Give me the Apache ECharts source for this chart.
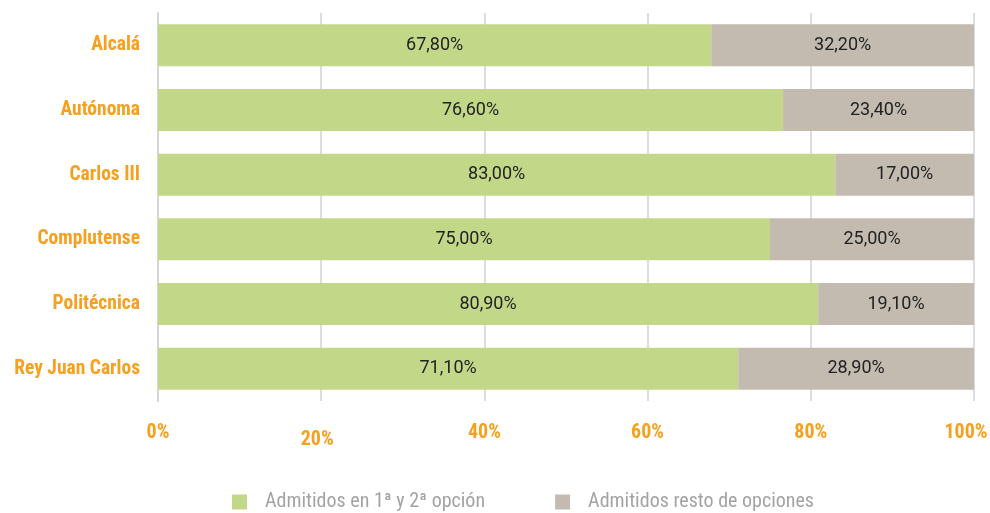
<!DOCTYPE html>
<html>
<head>
<meta charset="utf-8">
<script src="https://cdn.jsdelivr.net/npm/echarts@6/dist/echarts.min.js"></script>
<style>
  html, body { margin: 0; padding: 0; background: #fff; }
  #chart { width: 990px; height: 513px; }
</style>
</head>
<body>
<div id="chart"></div>
<script>
  const universidades = ['Alcalá', 'Autónoma', 'Carlos III', 'Complutense', 'Politécnica', 'Rey Juan Carlos'];
  const primeraSegunda = [67.8, 76.6, 83.0, 75.0, 80.9, 71.1];
  const restoOpciones = [32.2, 23.4, 17.0, 25.0, 19.1, 28.9];
  const nombresSeries = ['Admitidos en 1ª y 2ª opción', 'Admitidos resto de opciones'];

  const fmtPct = v => v.toFixed(2).replace('.', ',') + '%';
  const narrow = "'Liberation Sans Narrow', 'Roboto Condensed', Arial, sans-serif";

  const chart = echarts.init(document.getElementById('chart'));

  const barLabel = {
    show: true,
    position: 'inside',
    color: '#222',
    fontSize: 18,
    fontFamily: 'Roboto, sans-serif',
    formatter: p => fmtPct(p.value)
  };

  const tickFont = { fontFamily: narrow, fontWeight: 'bold', fontSize: 20, color: '#f5a01e' };

  const option = {
    backgroundColor: '#fff',
    animation: false,
    grid: { left: 158, right: 16, top: 13, bottom: 112, containLabel: false, outerBoundsMode: 'none' },
    legend: {
      bottom: -4,
      left: 227,
      itemWidth: 15,
      itemHeight: 15,
      itemGap: 70,
      icon: 'rect',
      textStyle: { color: '#a3a3a3', fontSize: 20, fontFamily: narrow, padding: [0, 0, 0, 13] },
      data: nombresSeries
    },
    xAxis: {
      type: 'value',
      min: 0,
      max: 100,
      interval: 20,
      axisLine: { show: false },
      axisTick: { show: false },
      splitLine: { show: true, lineStyle: { color: '#dddddd', width: 2 } },
      axisLabel: Object.assign({
        margin: 22,
        formatter: v => {
          if (v === 20) return '{low|' + v + '%}';
          if (v === 100) return '{last|' + v + '%}';
          return v + '%';
        },
        rich: {
          low: Object.assign({ padding: [7, 8, 0, 0] }, tickFont),
          last: Object.assign({ padding: [0, 16, 0, 0] }, tickFont)
        }
      }, tickFont)
    },
    yAxis: {
      type: 'category',
      inverse: true,
      data: universidades,
      axisLine: { show: true, lineStyle: { color: '#d6d6d6', width: 2 } },
      axisTick: { show: false },
      axisLabel: {
        margin: 18,
        fontFamily: narrow,
        fontWeight: 'bold',
        fontSize: 19.5,
        color: '#f5a01e'
      }
    },
    series: [
      {
        name: nombresSeries[0],
        type: 'bar',
        stack: 'total',
        barWidth: '65%',
        itemStyle: { color: '#c2d888' },
        label: barLabel,
        data: primeraSegunda
      },
      {
        name: nombresSeries[1],
        type: 'bar',
        stack: 'total',
        barWidth: '65%',
        itemStyle: { color: '#c4bbb0' },
        label: barLabel,
        data: restoOpciones
      }
    ]
  };

  chart.setOption(option);
</script>
</body>
</html>
